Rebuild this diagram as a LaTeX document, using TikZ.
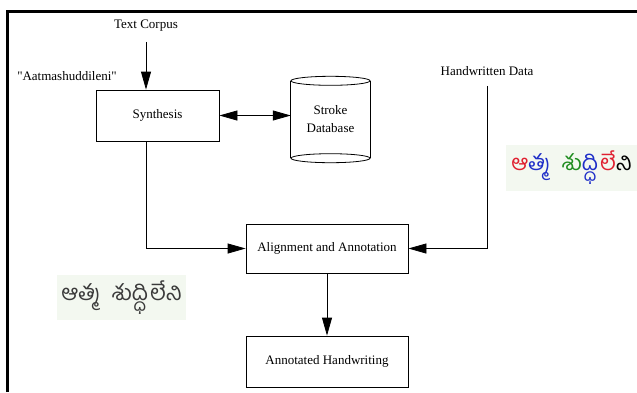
\documentclass[tikz,border=0pt]{standalone}
\usepackage{fontspec}
\setmainfont{Liberation Serif}
\newfontfamily\plainserif{Liberation Serif}
\newfontfamily\telugufont[Script=Telugu]{Hind Guntur}
\usetikzlibrary{arrows.meta}
\definecolor{hwbg}{HTML}{F3F8F0}
\definecolor{hwred}{HTML}{E02030}
\definecolor{hwblue}{HTML}{1E2EC8}
\definecolor{hwgreen}{HTML}{1E8C1E}
\definecolor{hwgray}{HTML}{3A3A3A}
\tikzset{
  box/.style={draw, line width=0.8pt, inner sep=0},
  lbl/.style={font=\fontsize{13}{15}\selectfont, inner sep=0},
  tel/.style={fill=hwbg, inner sep=0, font={\telugufont\fontsize{22}{24}\selectfont}},
  tip/.tip={Triangle[length=18pt,width=10pt]},
  arr/.style={-tip, line width=0.8pt},
  darr/.style={tip-tip, line width=0.8pt},
}
\begin{document}
\begin{tikzpicture}[x=1pt, y=-1pt]
  \useasboundingbox (0,0) rectangle (637,392);
  \draw[line width=3pt] (7.5,392) -- (7.5,11) -- (637,11);

  \node (corpus) [lbl] at (146,26) {Text Corpus};
  \node (quote) [lbl, font={\plainserif\fontsize{13}{15}\selectfont}] at (67,76) {"Aatmashuddileni"};
  \node (synth) [box, lbl, minimum width=123pt, minimum height=51pt] at (157.5,115.5) {Synthesis};
  \node (db) [lbl, align=center, minimum width=79pt, minimum height=77pt] at (330.5,119.5) {Stroke\\[3pt]Database};
  \node (hwdata) [lbl] at (487,71) {Handwritten Data};
  \node (align) [box, lbl, minimum width=162pt, minimum height=49pt] at (327,248.5) {Alignment and Annotation};
  \node (annot) [box, lbl, minimum width=162pt, minimum height=51pt] at (327,361.5) {Annotated Handwriting};

  % cylinder for the stroke database
  \draw[line width=0.8pt] (db.north west) -- (db.south west) (db.north east) -- (db.south east);
  \draw[line width=0.8pt, fill=white] (db.north) ellipse [x radius=39.5pt, y radius=4.5pt];
  \draw[line width=0.8pt] (db.south) ellipse [x radius=39.5pt, y radius=4.5pt];

  \node (hwcol) [tel, minimum width=131pt, minimum height=46pt] at (571.5,168) {\textcolor{hwred}{ఆ}\textcolor{hwblue}{త్మ}\hspace{6pt} \textcolor{hwgreen}{శు}\textcolor{hwblue}{ద్ధి}\hspace{2pt}\textcolor{hwred}{లే}ని};
  \node (hwgry) [tel, text=hwgray, minimum width=129pt, minimum height=45pt] at (121.5,297.5) {ఆత్మ\hspace{6pt} శుద్ధి\hspace{2pt}లేని};

  \draw[arr, shorten <=10pt] (corpus) -- (corpus |- synth.north);
  \draw[darr] (synth.east) -- (synth.east -| db.west);
  \draw[arr] (synth.south -| corpus) |- (align.west);
  \draw[arr, shorten <=10pt] (hwdata) |- (align.east);
  \draw[arr] (align) -- (annot);
\end{tikzpicture}
\end{document}
